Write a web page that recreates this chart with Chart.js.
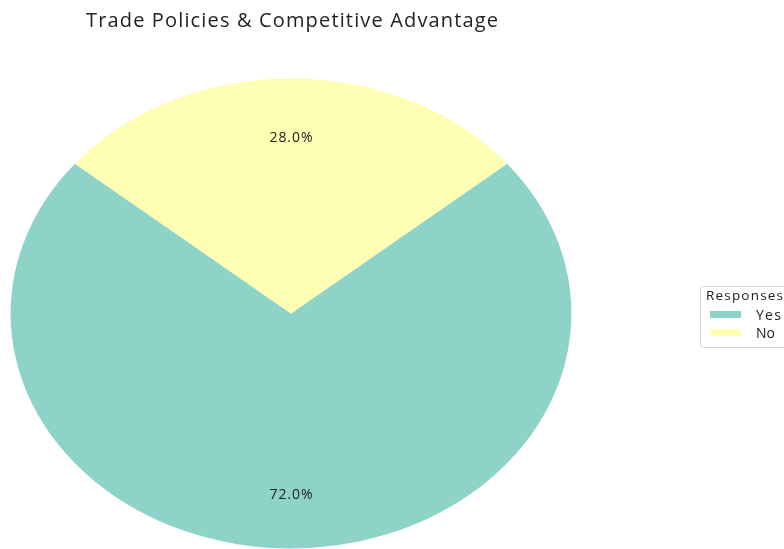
<!DOCTYPE html>
<html>
<head>
<meta charset="utf-8">
<script src="https://cdn.jsdelivr.net/npm/chart.js@4"></script>
<style>
  html, body { margin: 0; padding: 0; background: #ffffff; }
  #wrap { width: 784px; height: 549px; position: relative; }
</style>
</head>
<body>
<div id="wrap"><canvas id="c" width="784" height="549"></canvas></div>
<script>
const titleText = "Trade Policies & Competitive Advantage";
const legendTitle = "Responses";
const categories = ["Yes", "No"];
const values = [72.0, 28.0];
const colors = ["#8dd3c7", "#ffffb3"];

const FONT = "'Open Sans', 'DejaVu Sans', sans-serif";
const X_STRETCH = 281 / 235.5;   // pie is drawn wider than tall
const PCT_DIST = 0.76;

function fitText(ctx, text, x, y, targetW) {
  const w = ctx.measureText(text).width;
  const n = Math.max(text.length - 1, 1);
  const sp = Math.max((targetW - w) / n, 0);
  if ('letterSpacing' in ctx) {
    ctx.letterSpacing = sp.toFixed(2) + 'px';
    ctx.fillText(text, x, y);
    ctx.letterSpacing = '0px';
  } else {
    ctx.fillText(text, x, y);
  }
}

const stretchPlugin = {
  id: 'stretch',
  beforeDatasetsDraw(chart) {
    const arc = chart.getDatasetMeta(0).data[0];
    const ctx = chart.ctx;
    ctx.save();
    ctx.translate(arc.x, arc.y);
    ctx.scale(X_STRETCH, 1);
    ctx.translate(-arc.x, -arc.y);
  },
  afterDatasetsDraw(chart) {
    chart.ctx.restore();
  }
};

const textPlugin = {
  id: 'texts',
  afterDraw(chart) {
    const ctx = chart.ctx;
    const meta = chart.getDatasetMeta(0);
    const total = values.reduce((a, b) => a + b, 0);
    // percentage labels
    ctx.save();
    ctx.fillStyle = '#222222';
    ctx.font = "14px " + FONT;
    ctx.textAlign = 'left';
    ctx.textBaseline = 'middle';
    meta.data.forEach((arc, i) => {
      const mid = (arc.startAngle + arc.endAngle) / 2;
      const r = arc.outerRadius * PCT_DIST;
      const x = arc.x + Math.cos(mid) * r * X_STRETCH;
      const y = arc.y + Math.sin(mid) * r;
      fitText(ctx, (values[i] / total * 100).toFixed(1) + '%', x - 21.5, y + 3, 43);
    });
    // title
    ctx.font = "20px " + FONT;
    ctx.fillStyle = '#222222';
    ctx.textBaseline = 'alphabetic';
    fitText(ctx, titleText, 86, 27, 412);
    // legend
    const lx = 700.5, ly = 286.5, lw = 100, lh = 61;
    ctx.beginPath();
    if (ctx.roundRect) ctx.roundRect(lx, ly, lw, lh, 3); else ctx.rect(lx, ly, lw, lh);
    ctx.fillStyle = 'rgba(255,255,255,0.85)';
    ctx.fill();
    ctx.strokeStyle = '#d6d6d6';
    ctx.lineWidth = 1;
    ctx.stroke();
    ctx.fillStyle = '#222222';
    ctx.textAlign = 'left';
    ctx.font = "13.5px " + FONT;
    fitText(ctx, legendTitle, 706, 300, 77);
    ctx.font = "14px " + FONT;
    categories.forEach((c, i) => {
      const y = 311 + i * 18;
      ctx.fillStyle = colors[i];
      ctx.fillRect(710, y, 31, 7);
      ctx.fillStyle = '#222222';
      fitText(ctx, c, 756, y + 9, c.length * 8.3);
    });
    ctx.restore();
  }
};

new Chart(document.getElementById('c'), {
  type: 'pie',
  data: {
    labels: categories,
    datasets: [{
      data: values,
      backgroundColor: colors,
      borderWidth: 0,
      hoverOffset: 0
    }]
  },
  options: {
    responsive: false,
    animation: false,
    rotation: 50.4,
    layout: { padding: { left: 56, right: 258, top: 78, bottom: 0 } },
    plugins: {
      legend: { display: false },
      title: { display: false },
      tooltip: { enabled: false }
    },
    events: []
  },
  plugins: [stretchPlugin, textPlugin]
});
</script>
</body>
</html>
